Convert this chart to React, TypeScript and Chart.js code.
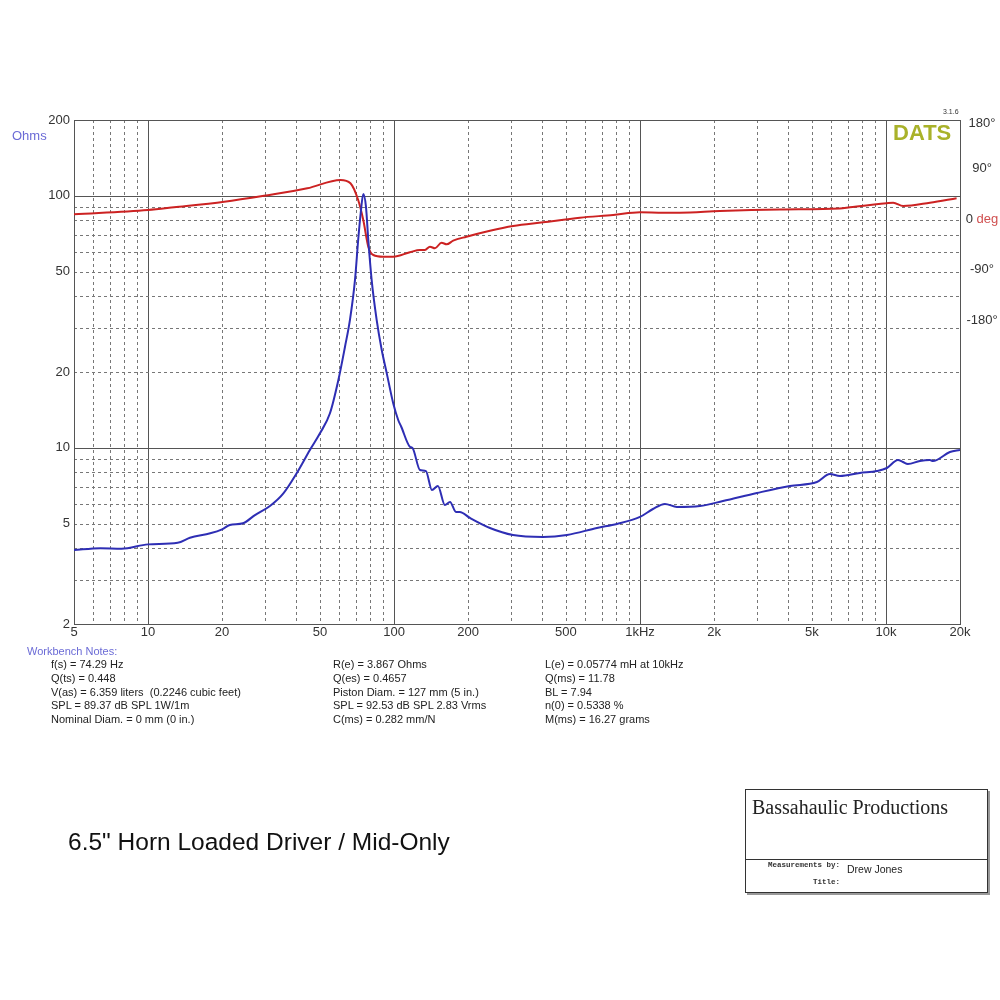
import React, { useEffect, useRef } from "react";
import { Chart, registerables } from "chart.js";

Chart.register(...registerables);

// ---- data ----
const impFreq = [5, 6.4, 7.8, 10, 13.2, 14.8, 17.9, 20, 21.5, 24.3, 27.2, 31.3, 35.5, 40.2, 45.5, 50, 54.9, 59.4, 63.2, 66.2, 69.4, 71.5, 73.2, 75.0, 76.9, 78.6, 81.1, 85.0, 89.1, 93.4, 99.3, 104, 107, 116, 119, 127.5, 134.8, 142.6, 150.8, 161, 168.9, 178.6, 185, 203.6, 245.5, 304.5, 403, 505, 668, 806, 1000, 1129, 1263, 1413, 1752, 2173, 2988, 4070, 5239, 5916, 6497, 7836, 9188, 10090, 11186, 11720, 12280, 13740, 15090, 15520, 18195, 20000];
const impOhms = [3.93, 4.0, 3.98, 4.14, 4.2, 4.4, 4.58, 4.75, 4.94, 5.02, 5.41, 5.88, 6.6, 7.93, 9.81, 11.42, 13.72, 18.6, 25.2, 32.2, 46.4, 66.8, 85.3, 101.7, 90.6, 66.8, 46.4, 32.2, 24.5, 19.8, 15.0, 12.9, 12.13, 10.1, 9.98, 8.17, 8.09, 6.8, 7.06, 5.93, 6.1, 5.57, 5.57, 5.27, 4.81, 4.51, 4.43, 4.51, 4.81, 4.99, 5.32, 5.72, 5.99, 5.83, 5.88, 6.15, 6.62, 7.06, 7.32, 7.87, 7.73, 7.95, 8.09, 8.32, 8.95, 8.79, 8.63, 8.87, 8.95, 8.87, 9.63, 9.81];

const phaseFreq = [5, 10, 12.75, 20.4, 29.6, 44.4, 60.6, 66.5, 71.5, 75.0, 78.6, 82.4, 90.4, 99.3, 116, 127.5, 133.6, 140, 146.7, 156, 163.7, 174, 197, 245.5, 305, 404, 570, 778, 1000, 1243, 1453, 2113, 3706, 6497, 7135, 10060, 10700, 11750, 15090, 19370];
const phaseDeg = [11.6, 19.3, 24.1, 34.1, 44.8, 58.0, 72.9, 67.0, 37.1, 1.4, -46.2, -61.1, -64.1, -64.1, -56.3, -52.1, -52.1, -46.2, -49.1, -39.1, -42.0, -35.5, -28.4, -17.7, -9.3, -2.7, 5.5, 10.4, 15.2, 14.5, 14.5, 17.5, 20.2, 22.0, 24.1, 31.3, 32.3, 26.4, 32.3, 40.2];

const xLabelValues = [5, 10, 20, 50, 100, 200, 500, 1000, 2000, 5000, 10000, 20000];
const xLabelTexts = ["5", "10", "20", "50", "100", "200", "500", "1kHz", "2k", "5k", "10k", "20k"];
const yLabelValues = [2, 5, 10, 20, 50, 100, 200];
const yLabelTexts = ["2", "5", "10", "20", "50", "100", "200"];
const phaseLabelValues = [180, 90, 0, -90, -180];
const phaseLabelTexts = ["180°", "90°", "0", "-90°", "-180°"];

const notesCol1 = ["f(s) = 74.29 Hz", "Q(ts) = 0.448", "V(as) = 6.359 liters  (0.2246 cubic feet)", "SPL = 89.37 dB SPL 1W/1m", "Nominal Diam. = 0 mm (0 in.)"];
const notesCol2 = ["R(e) = 3.867 Ohms", "Q(es) = 0.4657", "Piston Diam. = 127 mm (5 in.)", "SPL = 92.53 dB SPL 2.83 Vrms", "C(ms) = 0.282 mm/N"];
const notesCol3 = ["L(e) = 0.05774 mH at 10kHz", "Q(ms) = 11.78", "BL = 7.94", "n(0) = 0.5338 %", "M(ms) = 16.27 grams"];

const FONT = "Arial, 'Liberation Sans', sans-serif";

function decadeGrid(min: number, max: number): number[] {
  const out: number[] = [];
  for (let e = -1; e <= 6; e++) {
    for (let m = 1; m <= 9; m++) {
      const v = m * Math.pow(10, e);
      if (v >= min - 1e-9 && v <= max + 1e-9) out.push(Number(v.toPrecision(6)));
    }
  }
  return out;
}
const xGrid = decadeGrid(5, 20000);
const yGrid = decadeGrid(2, 200);
const isDecade = (v: number) => Math.abs(Math.log10(v) - Math.round(Math.log10(v))) < 1e-9;

const gridPlugin = {
  id: "datsGrid",
  beforeDatasetsDraw(chart: any) {
    const { ctx, chartArea: a, scales } = chart;
    const sx = scales.x;
    const sy = scales.y;
    ctx.save();
    ctx.lineWidth = 1;
    for (const v of xGrid) {
      if (v <= 5 || v >= 20000) continue;
      const px = Math.round(sx.getPixelForValue(v)) + 0.5;
      ctx.beginPath();
      if (isDecade(v)) {
        ctx.setLineDash([]);
        ctx.strokeStyle = "#555";
      } else {
        ctx.setLineDash([3, 3]);
        ctx.strokeStyle = "#777";
      }
      ctx.moveTo(px, a.top);
      ctx.lineTo(px, a.bottom);
      ctx.stroke();
    }
    for (const v of yGrid) {
      if (v <= 2 || v > 100) continue;
      const py = Math.round(sy.getPixelForValue(v)) + 0.5;
      ctx.beginPath();
      if (isDecade(v)) {
        ctx.setLineDash([]);
        ctx.strokeStyle = "#555";
      } else {
        ctx.setLineDash([3, 3]);
        ctx.strokeStyle = "#777";
      }
      ctx.moveTo(a.left, py);
      ctx.lineTo(a.right, py);
      ctx.stroke();
    }
    ctx.setLineDash([]);
    ctx.strokeStyle = "#555";
    ctx.strokeRect(Math.round(a.left) + 0.5, Math.round(a.top) + 0.5, Math.round(a.right - a.left), Math.round(a.bottom - a.top));
    ctx.restore();
  },
  afterDraw(chart: any) {
    const { ctx, scales } = chart;
    const s2 = scales.y2;
    ctx.save();
    ctx.font = `13px ${FONT}`;
    ctx.textBaseline = "middle";
    const cx = 982;
    phaseLabelValues.forEach((v, i) => {
      let py = s2.getPixelForValue(v) - 1.5;
      if (py < 123) py = 123;
      const txt = phaseLabelTexts[i];
      if (v === 0) {
        const a = "0 ";
        const b = "deg";
        const wa = ctx.measureText(a).width;
        const wb = ctx.measureText(b).width;
        const start = cx - (wa + wb) / 2;
        ctx.textAlign = "left";
        ctx.fillStyle = "#333";
        ctx.fillText(a, start, py);
        ctx.fillStyle = "#d05050";
        ctx.fillText(b, start + wa, py);
      } else {
        ctx.textAlign = "center";
        ctx.fillStyle = "#333";
        ctx.fillText(txt, cx, py);
      }
    });
    ctx.restore();
  },
};

export default function App() {
  const canvasRef = useRef<HTMLCanvasElement | null>(null);

  useEffect(() => {
    const canvas = canvasRef.current;
    if (!canvas) return;
    const chart = new Chart(canvas, {
      type: "scatter",
      data: {
        datasets: [
          {
            label: "Impedance",
            data: impFreq.map((f, i) => ({ x: f, y: impOhms[i] })),
            showLine: true,
            borderColor: "#2e2eb4",
            borderWidth: 2,
            pointRadius: 0,
            cubicInterpolationMode: "monotone",
            xAxisID: "x",
            yAxisID: "y",
          },
          {
            label: "Phase",
            data: phaseFreq.map((f, i) => ({ x: f, y: phaseDeg[i] })),
            showLine: true,
            borderColor: "#cc2222",
            borderWidth: 2,
            pointRadius: 0,
            cubicInterpolationMode: "monotone",
            xAxisID: "x",
            yAxisID: "y2",
          },
        ],
      },
      options: {
        responsive: false,
        animation: false,
        events: [],
        layout: { padding: { top: 120, left: 0, right: 0, bottom: 346 } },
        plugins: { legend: { display: false }, tooltip: { enabled: false } },
        scales: {
          x: {
            type: "logarithmic",
            position: "bottom",
            min: 5,
            max: 20000,
            grid: { display: false, drawTicks: false },
            border: { display: false },
            afterBuildTicks: (s: any) => {
              s.ticks = xGrid.map((v) => ({ value: v }));
            },
            afterFit: (s: any) => {
              s.height = 30;
            },
            ticks: {
              autoSkip: false,
              maxRotation: 0,
              minRotation: 0,
              padding: 1,
              color: "#333",
              font: { family: FONT, size: 13 },
              callback: (v: any) => {
                const i = xLabelValues.findIndex((x) => Math.abs(x - Number(v)) < 1e-6);
                return i >= 0 ? xLabelTexts[i] : "";
              },
            },
          },
          y: {
            type: "logarithmic",
            position: "left",
            min: 2,
            max: 200,
            grid: { display: false, drawTicks: false },
            border: { display: false },
            afterBuildTicks: (s: any) => {
              s.ticks = yGrid.map((v) => ({ value: v }));
            },
            afterFit: (s: any) => {
              s.width = 74;
            },
            ticks: {
              autoSkip: false,
              padding: 4,
              color: "#333",
              font: { family: FONT, size: 13 },
              callback: (v: any) => {
                const i = yLabelValues.findIndex((x) => Math.abs(x - Number(v)) < 1e-6);
                return i >= 0 ? yLabelTexts[i] : "";
              },
            },
          },
          y2: {
            type: "linear",
            position: "right",
            min: -720,
            max: 180,
            grid: { display: false, drawTicks: false },
            border: { display: false },
            ticks: { display: false },
            afterFit: (s: any) => {
              s.width = 40;
            },
          },
        },
      },
      plugins: [gridPlugin],
    } as any);
    return () => chart.destroy();
  }, []);

  const txt = (left: number, cy: number, size: number, extra: any = {}) => ({
    position: "absolute" as const,
    left,
    top: cy - size * 0.5,
    fontSize: size,
    lineHeight: `${size}px`,
    fontFamily: FONT,
    whiteSpace: "pre" as const,
    color: "#222",
    ...extra,
  });

  const rows = [664.5, 678.5, 692, 705.5, 719];

  return (
    <div style={{ position: "absolute", left: 0, top: 0, width: 1000, height: 1000, background: "#fff", overflow: "hidden" }}>
      <canvas ref={canvasRef} width={1000} height={1000} style={{ position: "absolute", left: 0, top: 0, width: 1000, height: 1000 }} />
      <div style={txt(12, 135, 13, { color: "#6b6bd6" })}>Ohms</div>
      <div style={txt(893, 133, 22, { color: "#a9b22a", fontWeight: "bold" })}>DATS</div>
      <div style={txt(943, 111, 7, { color: "#333" })}>3.1.6</div>

      <div style={txt(27, 651, 11, { color: "#6b6bd6" })}>Workbench Notes:</div>
      {notesCol1.map((t, i) => (
        <div key={"a" + i} style={txt(51, rows[i], 11)}>{t}</div>
      ))}
      {notesCol2.map((t, i) => (
        <div key={"b" + i} style={txt(333, rows[i], 11)}>{t}</div>
      ))}
      {notesCol3.map((t, i) => (
        <div key={"c" + i} style={txt(545, rows[i], 11)}>{t}</div>
      ))}

      <div style={txt(68, 842, 24.5, { color: "#111" })}>6.5" Horn Loaded Driver / Mid-Only</div>

      <div
        style={{
          position: "absolute",
          left: 745,
          top: 789,
          width: 241,
          height: 102,
          border: "1px solid #333",
          boxShadow: "2px 2px 0 #999",
          background: "#fff",
        }}
      >
        <div style={{ position: "absolute", left: 0, right: 0, top: 69, borderTop: "1px solid #333" }} />
        <div
          style={{
            position: "absolute",
            left: 6,
            top: 7,
            fontFamily: "'Times New Roman', 'Liberation Serif', serif",
            fontSize: 20,
            lineHeight: "20px",
            color: "#222",
            whiteSpace: "pre",
          }}
        >
          Bassahaulic Productions
        </div>
        <div style={txt(22, 76, 7.5, { fontFamily: "'Courier New', 'Liberation Mono', monospace", fontWeight: "bold", color: "#333" })}>Measurements by:</div>
        <div style={txt(101, 79, 10.5, { color: "#222" })}>Drew Jones</div>
        <div style={txt(67, 93, 7.5, { fontFamily: "'Courier New', 'Liberation Mono', monospace", fontWeight: "bold", color: "#333" })}>Title:</div>
      </div>
    </div>
  );
}
